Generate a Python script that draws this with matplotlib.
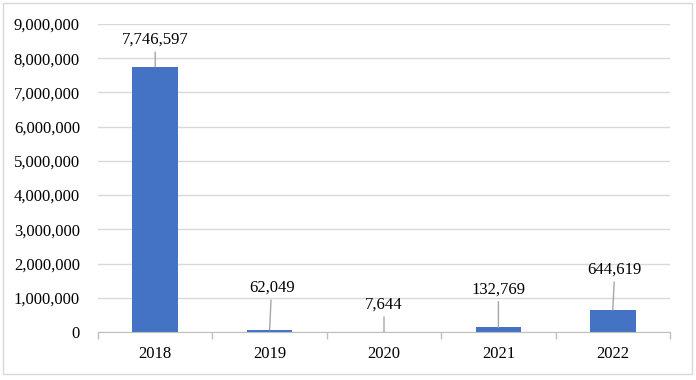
import matplotlib
matplotlib.use("Agg")
import matplotlib.pyplot as plt
from matplotlib.patches import Rectangle
from matplotlib.ticker import FuncFormatter

years = ["2018", "2019", "2020", "2021", "2022"]
values = [7746597, 62049, 7644, 132769, 644619]
label_offsets = [(0, 27), (2, 42), (0, 27), (0, 38), (2, 40)]

plt.rcParams['font.family'] = ['Liberation Serif', 'DejaVu Serif']

fig = plt.figure(figsize=(6.96, 3.80), dpi=100)
ax = fig.add_axes([98/696, 1-332/380, (670-98)/696, (332-24)/380])

x = list(range(len(years)))
ax.bar(x, values, width=0.4, color="#4472C4", zorder=3)
ax.set_xlim(-0.5, len(years)-0.5)
ax.set_ylim(0, 9000000)
ax.set_yticks(range(0, 9000001, 1000000))
ax.yaxis.set_major_formatter(FuncFormatter(lambda v, p: f"{int(v):,}"))
ax.set_xticks(x)
ax.set_xticklabels(years)
ax.set_xticks([i + 0.5 for i in range(-1, len(years))], minor=True)
ax.tick_params(axis='x', which='major', length=0, pad=10, labelsize=12, colors='black')
ax.tick_params(axis='x', which='minor', length=5, color='#bfbfbf', width=1)
ax.tick_params(axis='y', length=0, pad=13, labelsize=12, colors='black')
ax.grid(axis='y', color='#d9d9d9', linewidth=1, zorder=0)
for s in ['top', 'right', 'left']:
    ax.spines[s].set_visible(False)
ax.spines['bottom'].set_color('#bfbfbf')
ax.spines['bottom'].set_zorder(4)

for xi, v, (dx, dy) in zip(x, values, label_offsets):
    ax.annotate(f"{v:,}", xy=(xi, v), xytext=(dx, dy), textcoords='offset pixels',
                ha='center', va='center', fontsize=12, color='black',
                arrowprops=dict(arrowstyle='-', color='#a6a6a6', lw=1,
                                shrinkA=1, shrinkB=0), zorder=5)

fig.patches.append(Rectangle((3/696, 1-374/380), 689/696, 371/380, transform=fig.transFigure,
                             fill=False, edgecolor='#d9d9d9', linewidth=1))
fig.savefig("out.png", dpi=100)
